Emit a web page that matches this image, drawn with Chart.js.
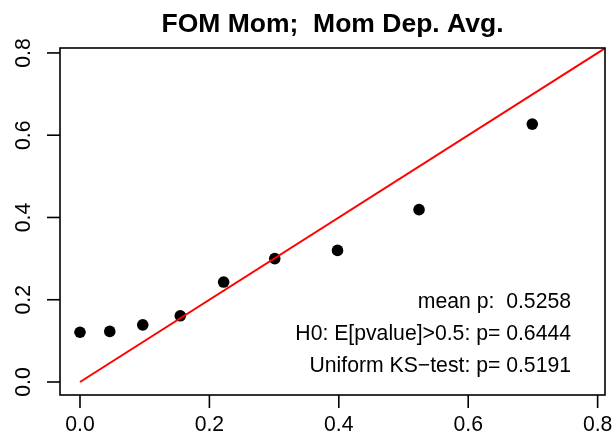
<!DOCTYPE html>
<html><head><meta charset="utf-8">
<script src="https://cdn.jsdelivr.net/npm/chart.js@4"></script>
<style>html,body{margin:0;padding:0;background:#fff;}</style>
</head><body>
<canvas id="c" width="616" height="445"></canvas>
<script>
const pointX = [0, 0.046, 0.097, 0.155, 0.222, 0.301, 0.398, 0.524, 0.699];
const pointY = [0.121, 0.123, 0.139, 0.161, 0.243, 0.300, 0.320, 0.419, 0.627];
const refLineX = [0, 1];
const refLineY = [0, 1];
const xTicks = [0, 0.2, 0.4, 0.6, 0.8];
const yTicks = [0, 0.2, 0.4, 0.6, 0.8];
const xTickLabels = ['0.0', '0.2', '0.4', '0.6', '0.8'];
const yTickLabels = ['0.0', '0.2', '0.4', '0.6', '0.8'];
const titleText = 'FOM Mom;  Mom Dep. Avg.';
const annotationLines = ['mean p:  0.5258', 'H0: E[pvalue]>0.5: p= 0.6444', 'Uniform KS\u2212test: p= 0.5191'];

const FONT = '"Liberation Sans", Arial, Helvetica, sans-serif';
const FS = 21.2;

const rAxes = {
  id: 'rAxes',
  afterDraw(chart) {
    const ctx = chart.ctx, a = chart.chartArea;
    const xs = chart.scales.x, ys = chart.scales.y;
    ctx.save();
    ctx.strokeStyle = '#000';
    ctx.lineWidth = 1.6;
    ctx.strokeRect(a.left, a.top, a.right - a.left, a.bottom - a.top);
    ctx.fillStyle = '#000';
    ctx.font = FS + 'px ' + FONT;
    ctx.textAlign = 'center';
    ctx.textBaseline = 'alphabetic';
    xTicks.forEach((v, i) => {
      const px = xs.getPixelForValue(v);
      ctx.beginPath(); ctx.moveTo(px, a.bottom); ctx.lineTo(px, a.bottom + 13); ctx.stroke();
      ctx.fillText(xTickLabels[i], px, a.bottom + 36);
    });
    yTicks.forEach((v, i) => {
      const py = ys.getPixelForValue(v);
      ctx.beginPath(); ctx.moveTo(a.left, py); ctx.lineTo(a.left - 13, py); ctx.stroke();
      ctx.save();
      ctx.translate(a.left - 30, py);
      ctx.rotate(-Math.PI / 2);
      ctx.fillText(yTickLabels[i], 0, 0);
      ctx.restore();
    });
    ctx.font = 'bold 26.5px ' + FONT;
    ctx.fillText(titleText, (a.left + a.right) / 2, 32);
    ctx.font = FS + 'px ' + FONT;
    ctx.textAlign = 'right';
    const base = [307.5, 339.5, 371.5];
    annotationLines.forEach((t, i) => ctx.fillText(t, 571, base[i]));
    ctx.restore();
  }
};

new Chart(document.getElementById('c'), {
  type: 'scatter',
  data: {
    datasets: [
      {
        data: refLineX.map((x, i) => ({x, y: refLineY[i]})),
        showLine: true, borderColor: '#ff0000', borderWidth: 2,
        pointRadius: 0, fill: false
      },
      {
        data: pointX.map((x, i) => ({x, y: pointY[i]})),
        showLine: false, backgroundColor: '#000', borderColor: '#000',
        pointRadius: 5.8, borderWidth: 0
      }
    ]
  },
  options: {
    responsive: false, animation: false, devicePixelRatio: 1,
    layout: {padding: {left: 60, top: 48, right: 11, bottom: 50}},
    plugins: {legend: {display: false}, tooltip: {enabled: false}, title: {display: false}},
    scales: {
      x: {type: 'linear', display: false, min: -0.0309, max: 0.8114},
      y: {type: 'linear', display: false, min: -0.0316, max: 0.812}
    }
  },
  plugins: [rAxes]
});
</script>
</body></html>
